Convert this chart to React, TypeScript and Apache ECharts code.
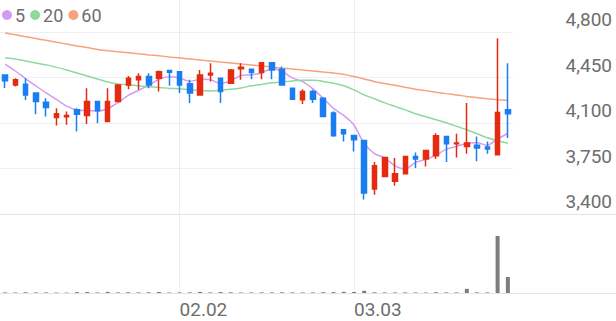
import React, { useEffect, useRef } from "react";
import * as echarts from "echarts";

const dates = [
  "01.08", "01.09", "01.12", "01.13", "01.14", "01.15", "01.16", "01.19", "01.20", "01.21",
  "01.22", "01.23", "01.26", "01.27", "01.28", "01.29", "01.30",
  "02.02", "02.03", "02.04", "02.05", "02.06", "02.09", "02.10", "02.11", "02.12", "02.13",
  "02.19", "02.20", "02.23", "02.24", "02.25", "02.26", "02.27",
  "03.03", "03.04", "03.05", "03.06", "03.09", "03.10", "03.11", "03.12", "03.13",
  "03.16", "03.17", "03.18", "03.19", "03.20", "03.23", "03.24",
];

const opens = [
  4470, 4393, 4399, 4330, 4260, 4142, 4148, 4201, 4158, 4265,
  4112, 4265, 4393, 4432, 4457, 4445, 4503, 4495, 4401, 4316,
  4470, 4445, 4406, 4518, 4514, 4488, 4564, 4514, 4368, 4278,
  4342, 4291, 4176, 4048, 4004, 3966, 3593, 3689, 3651, 3710,
  3843, 3823, 3848, 3997, 3940, 3920, 3928, 3915, 3856, 4201,
];
const closes = [
  4425, 4432, 4316, 4265, 4219, 4171, 4158, 4168, 4265, 4194,
  4265, 4393, 4445, 4457, 4393, 4495, 4491, 4393, 4330, 4470,
  4483, 4342, 4508, 4529, 4488, 4564, 4508, 4393, 4283, 4342,
  4283, 4150, 4002, 4017, 3971, 3562, 3772, 3835, 3710, 3843,
  3823, 3889, 4002, 3940, 3946, 3946, 3907, 3900, 4181, 4171,
];
const lows = [
  4370, 4380, 4276, 4168, 4150, 4081, 4086, 4035, 4092, 4099,
  4105, 4260, 4360, 4355, 4368, 4342, 4386, 4330, 4253, 4310,
  4419, 4253, 4400, 4432, 4437, 4437, 4437, 4390, 4280, 4247,
  4253, 4145, 3995, 3958, 3881, 3511, 3549, 3686, 3618, 3708,
  3754, 3766, 3823, 3800, 3835, 3864, 3805, 3864, 3850, 3984,
];
const highs = [
  4475, 4445, 4445, 4335, 4291, 4214, 4188, 4214, 4368, 4268,
  4368, 4400, 4462, 4483, 4483, 4503, 4505, 4497, 4432, 4508,
  4560, 4447, 4515, 4560, 4516, 4566, 4566, 4534, 4370, 4360,
  4355, 4300, 4190, 4050, 4010, 3971, 3800, 3837, 3831, 3845,
  3874, 3894, 4022, 4000, 4017, 4253, 3997, 3958, 4752, 4560,
];
const volumes = [
  60000, 50000, 70000, 55000, 60000, 50000, 45000, 90000, 100000, 55000,
  110000, 60000, 80000, 60000, 70000, 100000, 55000, 60000, 65000, 110000,
  60000, 100000, 70000, 50000, 55000, 65000, 60000, 70000, 60000, 55000,
  60000, 80000, 90000, 120000, 100000, 220000, 70000, 60000, 55000, 60000,
  55000, 50000, 80000, 60000, 55000, 420000, 65000, 60000, 5700000, 1600000,
];
const ma5 = [
  4553, 4500, 4440, 4385, 4331, 4281, 4230, 4200, 4196, 4193,
  4210, 4257, 4312, 4351, 4391, 4437, 4456, 4446, 4420, 4436,
  4433, 4404, 4425, 4466, 4470, 4486, 4519, 4496, 4447, 4418,
  4362, 4290, 4212, 4159, 4085, 3940, 3865, 3831, 3770, 3744,
  3797, 3820, 3853, 3899, 3920, 3945, 3948, 3928, 3976, 4021,
];
const ma20 = [
  4600, 4593, 4577, 4562, 4547, 4528, 4508, 4485, 4462, 4439,
  4416, 4401, 4393, 4386, 4378, 4374, 4366, 4363, 4355, 4351,
  4347, 4351, 4359, 4370, 4386, 4397, 4409, 4416, 4424, 4428,
  4428, 4420, 4405, 4386, 4355, 4316, 4286, 4255, 4228, 4201,
  4171, 4148, 4125, 4102, 4075, 4048, 4017, 3986, 3963, 3944,
];
const ma60 = [
  4792, 4778, 4764, 4750, 4736, 4722, 4707, 4693, 4680, 4665,
  4656, 4648, 4641, 4632, 4624, 4617, 4608, 4601, 4593, 4585,
  4577, 4569, 4562, 4554, 4546, 4538, 4530, 4522, 4516, 4508,
  4500, 4492, 4484, 4474, 4457, 4439, 4418, 4403, 4390, 4375,
  4360, 4349, 4337, 4326, 4316, 4304, 4295, 4286, 4279, 4273,
];
const maNames = ["5", "20", "60"];
const priceMin = 3400;
const priceMax = 4800;
const priceStep = 350;

const RED = "#e42b10";
const BLUE = "#1a7ef2";
const MA_COLORS = ["#d49af2", "#8ed99c", "#f8a27d"];
const FONT = "Roboto";
const TEXT = "#6e6e6e";

export default function App() {
  const ref = useRef<HTMLDivElement>(null);
  useEffect(() => {
    const chart = echarts.init(ref.current!, null, { renderer: "svg" });
    const isMonthStart = (i: number) =>
      i > 0 && dates[i].slice(0, 2) !== dates[i - 1].slice(0, 2);
    const maSeries = maNames.map((name, k) => ({
      name,
      type: "line",
      xAxisIndex: 0,
      yAxisIndex: 0,
      data: [ma5, ma20, ma60][k],
      symbol: "none",
      smooth: 0.2,
      z: 2,
      itemStyle: { color: MA_COLORS[k] },
      lineStyle: { color: MA_COLORS[k], width: 1.5 },
    }));
    const option: any = {
      animation: false,
      textStyle: { fontFamily: FONT },
      legend: {
        data: maNames,
        left: 2,
        top: 6,
        padding: 0,
        icon: "circle",
        itemWidth: 10,
        itemHeight: 10,
        itemGap: 5,
        selectedMode: false,
        textStyle: { fontSize: 18, color: TEXT, fontFamily: FONT, padding: [0, 0, 0, -2] },
      },
      grid: [
        { left: 0, top: 32, width: 513, height: 182 },
        { left: 0, top: 236, width: 513, height: 57 },
        { left: 5.13, top: 0, width: 502.74, height: 293 },
        { left: 0, right: 0, top: 214, height: 79 },
      ],
      xAxis: [
        { type: "category", gridIndex: 0, data: dates, boundaryGap: true, show: false },
        { type: "category", gridIndex: 1, data: dates, boundaryGap: true, show: false },
        {
          type: "category",
          gridIndex: 2,
          data: dates,
          boundaryGap: false,
          axisLine: { show: false },
          axisTick: { show: false },
          axisLabel: {
            interval: (i: number) => isMonthStart(i),
            align: "left",
            margin: 7,
            fontSize: 19,
            color: TEXT,
            fontFamily: FONT,
          },
          splitLine: {
            show: true,
            interval: (i: number) => isMonthStart(i),
            lineStyle: { color: "#ededed", width: 1 },
          },
        },
        {
          type: "value",
          gridIndex: 3,
          min: 0,
          max: 1,
          position: "bottom",
          axisLine: { show: true, lineStyle: { color: "#e4e4e4", width: 1 } },
          axisTick: { show: false },
          axisLabel: { show: false },
          splitLine: { show: false },
        },
        {
          type: "value",
          gridIndex: 3,
          min: 0,
          max: 1,
          position: "top",
          axisLine: { show: true, lineStyle: { color: "#e4e4e4", width: 1 } },
          axisTick: { show: false },
          axisLabel: { show: false },
          splitLine: { show: false },
        },
      ],
      yAxis: [
        {
          type: "value",
          gridIndex: 0,
          position: "right",
          min: priceMin,
          max: priceMax,
          interval: priceStep,
          axisLine: { show: false },
          axisTick: { show: false },
          splitLine: { show: true, lineStyle: { color: "#efefef", width: 1 } },
          axisLabel: {
            formatter: (v: number) => v.toLocaleString("en-US"),
            align: "right",
            verticalAlign: "bottom",
            margin: 99,
            padding: [0, 0, 3, 0],
            fontSize: 19,
            color: TEXT,
            fontFamily: FONT,
          },
        },
        { type: "value", gridIndex: 1, min: 0, max: "dataMax", show: false },
        { type: "value", gridIndex: 2, min: 0, max: 1, show: false },
        { type: "value", gridIndex: 3, min: 0, max: 1, show: false },
      ],
      series: [
        ...maSeries,
        {
          type: "candlestick",
          xAxisIndex: 0,
          yAxisIndex: 0,
          barWidth: 5,
          z: 3,
          data: dates.map((_, i) => [opens[i], closes[i], lows[i], highs[i]]),
          itemStyle: {
            color: RED,
            color0: BLUE,
            borderColor: RED,
            borderColor0: BLUE,
            borderWidth: 1.5,
          },
        },
        {
          type: "bar",
          xAxisIndex: 1,
          yAxisIndex: 1,
          data: volumes,
          barWidth: 4,
          itemStyle: { color: "#7d7d7d" },
        },
      ],
    };
    chart.setOption(option);
    return () => chart.dispose();
  }, []);
  return (
    <div
      ref={ref}
      style={{ position: "fixed", left: 0, top: 0, width: 616, height: 321, background: "#fff" }}
    />
  );
}
